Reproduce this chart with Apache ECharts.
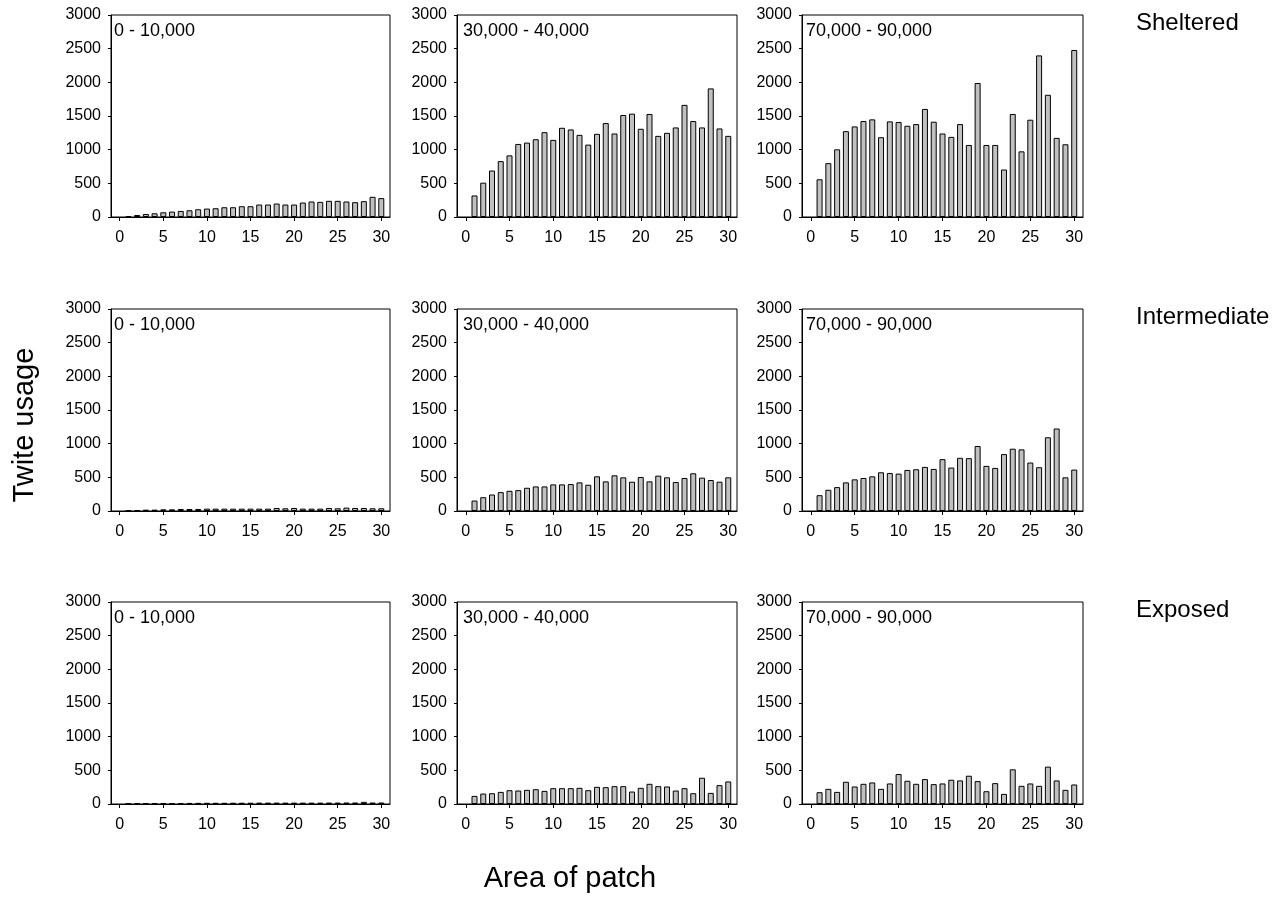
<!DOCTYPE html>
<html>
<head>
<meta charset="utf-8">
<script src="https://cdn.jsdelivr.net/npm/echarts@6/dist/echarts.min.js"></script>
<style>html,body{margin:0;padding:0;background:#fff;}#c{width:1288px;height:920px;}</style>
</head>
<body>
<div id="c"></div>
<script>
const patchAreas = Array.from({length: 30}, (_, i) => i + 1); // x categories 1..30
const xTicks = [0, 5, 10, 15, 20, 25, 30];
const rowLabels = ['Sheltered', 'Intermediate', 'Exposed'];
const colLabels = ['0 - 10,000', '30,000 - 40,000', '70,000 - 90,000'];

// Sheltered
const sheltered_0_10k = [15,30,45,55,70,80,90,100,115,125,130,145,145,160,160,185,185,200,185,185,215,230,225,240,240,230,220,235,300,280];
const sheltered_30_40k = [320,510,690,830,915,1085,1105,1155,1260,1145,1325,1300,1220,1075,1235,1395,1240,1515,1535,1310,1530,1205,1250,1330,1665,1425,1330,1910,1315,1205];
const sheltered_70_90k = [560,800,1005,1275,1345,1425,1450,1185,1420,1410,1355,1380,1605,1415,1240,1190,1380,1070,1990,1070,1070,705,1530,975,1445,2400,1815,1175,1080,2480];
// Intermediate
const intermediate_0_10k = [10,15,20,20,25,25,30,30,30,35,35,35,35,35,35,35,35,45,40,45,35,35,35,45,40,50,45,45,40,40];
const intermediate_30_40k = [155,205,245,280,300,310,345,365,365,395,395,400,425,390,515,440,530,500,435,505,440,525,500,430,490,560,495,460,435,500];
const intermediate_70_90k = [235,315,355,425,470,490,515,575,565,555,610,620,655,625,770,645,790,785,965,670,640,845,925,915,720,650,1095,1225,500,615];
// Exposed
const exposed_0_10k = [5,8,10,12,14,15,15,16,17,18,18,18,19,19,19,20,20,20,20,20,20,20,20,21,21,22,22,32,22,22];
const exposed_30_40k = [120,155,160,180,205,200,210,220,195,235,235,235,240,205,255,250,265,265,185,240,300,265,260,200,235,160,390,165,280,335];
const exposed_70_90k = [175,225,180,330,260,300,320,225,305,445,345,300,370,295,305,360,350,420,340,190,310,150,515,270,305,270,555,350,210,290];

const panels = [
  [sheltered_0_10k, sheltered_30_40k, sheltered_70_90k],
  [intermediate_0_10k, intermediate_30_40k, intermediate_70_90k],
  [exposed_0_10k, exposed_30_40k, exposed_70_90k]
];

const gridLefts = [111, 457, 802];
const gridWidths = [279, 280, 281];
const labelOffsets = [3, 6, 4];
const gridTops = [15, 309, 602];
const gridHeight = 202;
const font = 'Liberation Sans, Arial, sans-serif';

const grid = [], xAxis = [], yAxis = [], series = [], graphic = [];
let idx = 0;
for (let r = 0; r < 3; r++) {
  for (let c = 0; c < 3; c++) {
    grid.push({left: gridLefts[c], top: gridTops[r], width: gridWidths[c], height: gridHeight,
      show: true, borderColor: '#000', borderWidth: 1, backgroundColor: 'transparent'});
    xAxis.push({type: 'value', gridIndex: idx, min: -1, max: 31,
      axisLine: {show: true, onZero: false, lineStyle: {color: '#000', width: 1}},
      axisTick: {show: true, customValues: xTicks, length: 4, inside: false, lineStyle: {color: '#000'}},
      axisLabel: {show: true, customValues: xTicks, color: '#000', fontSize: 16, fontFamily: font, margin: 13},
      splitLine: {show: false}});
    yAxis.push({type: 'value', gridIndex: idx, min: 0, max: 3000, interval: 500,
      axisLine: {show: true, onZero: false, lineStyle: {color: '#000', width: 1}},
      axisTick: {show: true, length: 3, lineStyle: {color: '#000'}},
      axisLabel: {color: '#000', fontSize: 16, fontFamily: font, margin: 10, formatter: v => String(v)},
      splitLine: {show: false}});
    series.push({type: 'bar', xAxisIndex: idx, yAxisIndex: idx, barWidth: 6,
      data: patchAreas.map((x, i) => [x, panels[r][c][i]]),
      itemStyle: {color: '#c0c0c0', borderColor: '#000', borderWidth: 1},
      silent: true, animation: false});
    graphic.push({type: 'text', x: gridLefts[c] + labelOffsets[c], y: gridTops[r] + 16,
      style: {text: colLabels[c], fontSize: 18, fontFamily: font, fill: '#000', textVerticalAlign: 'middle'}});
    idx++;
  }
  graphic.push({type: 'text', x: 1136, y: gridTops[r] + 8,
    style: {text: rowLabels[r], fontSize: 24, fontFamily: font, fill: '#000', textVerticalAlign: 'middle'}});
}
graphic.push({type: 'text', x: 25, y: 425, rotation: Math.PI / 2,
  style: {text: 'Twite usage', fontSize: 29, fontFamily: font, fill: '#000', textAlign: 'center', textVerticalAlign: 'middle'}});
graphic.push({type: 'text', x: 570, y: 879,
  style: {text: 'Area of patch', fontSize: 29, fontFamily: font, fill: '#000', textAlign: 'center', textVerticalAlign: 'middle'}});

const chart = echarts.init(document.getElementById('c'), null, {renderer: 'canvas'});
chart.setOption({
  backgroundColor: '#fff',
  animation: false,
  grid: grid,
  xAxis: xAxis,
  yAxis: yAxis,
  series: series,
  graphic: graphic
});
</script>
</body>
</html>
